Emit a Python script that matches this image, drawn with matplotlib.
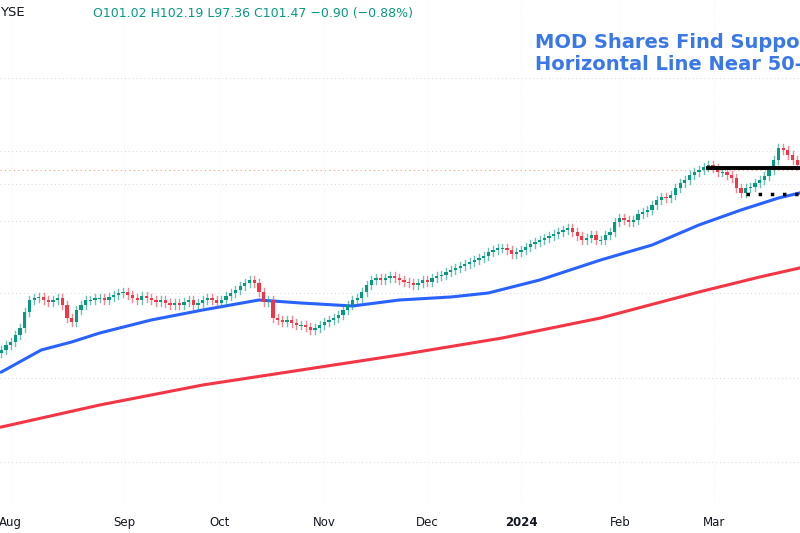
import matplotlib
matplotlib.use("Agg")
import matplotlib.pyplot as plt
import numpy as np

# chart level units (screen-like scale, larger = lower on chart)
closes = [350,345,342,335,328,312,300,298,297,300,302,300,298,305,318,322,310,305,300,300,
          298,298,300,297,295,293,292,295,298,300,296,298,300,302,300,303,305,303,305,302,
          300,305,303,300,298,300,303,300,296,293,290,286,283,280,283,292,302,300,318,320,
          322,320,323,325,325,327,330,328,325,322,320,318,315,310,305,300,298,292,285,280,
          278,280,278,276,278,280,282,283,285,283,280,282,278,276,275,272,270,268,266,264,
          262,260,258,256,252,250,248,248,250,254,252,250,247,244,242,240,238,236,234,232,
          230,228,232,236,240,238,235,240,240,235,232,222,218,220,222,220,214,212,210,205,
          200,197,198,195,188,183,180,175,172,170,167,165,168,172,172,175,178,188,193,188,
          187,183,180,176,170,160,148,150,155,160,165]
ma50_idx = [0,8.5,15,21,32,43,55,64,75,85,96,104,115,128,139,149,158,166,170.5]
ma50_val = [372,350,342,333,320,310,300,303,306,300,297,293,280,260,245,225,210,198,193]
ma200_idx = [0,21,43,64,85,107,128,149,162,170.5]
ma200_val = [427,405,385,370,355,338,318,292,277,268]
month_idx = [2,26.2,46.7,68.9,91,111,132.2,152.2]
month_lbl = ["Aug","Sep","Oct","Nov","Dec","2024","Feb","Mar"]
grid_levels = [78,151,184,221,293,378,462]
support_level = 168
support_start = 151
low_level = 194
low_start = 159
title_lines = ["MOD Shares Find Support", "Horizontal Line Near 50-"]
header = "O101.02 H102.19 L97.36 C101.47 \u22120.90 (\u22120.88%)"

GREEN, RED = "#089981", "#f23645"
fig = plt.figure(figsize=(8, 5.33), dpi=100)
ax = fig.add_axes([0, 28/533, 1, 505/533])
ax.set_xlim(-0.3, 170.6)
ax.set_ylim(505, 0)
for s in ax.spines.values():
    s.set_visible(False)
ax.set_yticks([])
for g in grid_levels:
    ax.axhline(g, color="#d6d9e0", lw=0.7, ls=(0, (1, 3)), zorder=0)
ax.axhline(170, color="#f4a07a", lw=0.8, ls=(0, (1, 3)), zorder=0)
for m in month_idx:
    ax.axvline(m, color="#eceef2", lw=0.6, ls=(0, (1, 3)), zorder=0)

ax.plot(ma200_idx, ma200_val, color="#f23645", lw=2.2, zorder=2)
ax.plot(ma50_idx, ma50_val, color="#2962ff", lw=2.2, zorder=2)

for i, c in enumerate(closes):
    o = closes[i-1] if i > 0 else c + 3
    col = GREEN if c <= o else RED
    top, bot = min(o, c), max(o, c)
    ax.plot([i, i], [top - 4, bot + 4], color=col, lw=1.0, alpha=0.6, zorder=3)
    ax.bar(i, max(bot - top, 1.2), bottom=top, width=0.7, color=col, zorder=4)

ax.plot([support_start, 171], [support_level]*2, color="black", lw=2.8, zorder=5)
ax.plot([low_start, 171], [low_level]*2, color="black", lw=2.5, ls=(0, (1, 2.5)), zorder=5)

ax.set_xticks(month_idx)
ax.set_xticklabels(month_lbl, fontsize=8.5, color="#131722")
ax.tick_params(axis="x", length=0, pad=8)
for lbl in ax.get_xticklabels():
    if lbl.get_text() == "2024":
        lbl.set_fontweight("bold")

fig.text(535/800, 1 - 42/533, title_lines[0], fontsize=14, fontweight="bold", color="#3b78e7", va="center")
fig.text(535/800, 1 - 65/533, title_lines[1], fontsize=14, fontweight="bold", color="#3b78e7", va="center")
fig.text(0, 1 - 13/533, "YSE", fontsize=9.5, color="#131722", va="center")
fig.text(93/800, 1 - 13/533, header, fontsize=9, color=GREEN, va="center")
fig.savefig("out.png", dpi=100)
